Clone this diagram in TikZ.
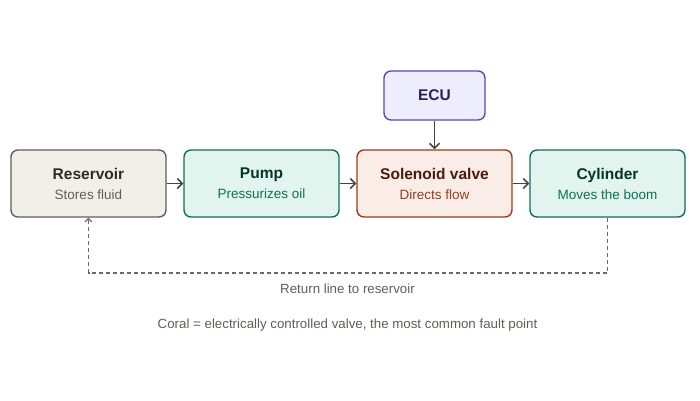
\documentclass[tikz,border=0pt]{standalone}
\usepackage{fontspec}
\setmainfont{Liberation Sans}
\usetikzlibrary{arrows.meta}

\definecolor{resfill}{HTML}{F1EFE8}
\definecolor{resdraw}{HTML}{5F5E5A}
\definecolor{restext}{HTML}{2C2C2A}
\definecolor{greenfill}{HTML}{E1F5EE}
\definecolor{greendraw}{HTML}{0F6E56}
\definecolor{greentext}{HTML}{04342C}
\definecolor{coralfill}{HTML}{FAECE7}
\definecolor{coraldraw}{HTML}{993C1D}
\definecolor{coraltext}{HTML}{4A1B0C}
\definecolor{ecufill}{HTML}{EEEDFE}
\definecolor{ecudraw}{HTML}{534AB7}
\definecolor{ecutext}{HTML}{26215C}
\definecolor{linegray}{HTML}{444441}
\definecolor{notegray}{HTML}{5F5E5A}

\begin{document}
\begin{tikzpicture}[
    x=1pt, y=-1pt,
    stage/.style={rectangle, rounded corners=7pt, line width=1.4pt, minimum width=155pt, minimum height=67pt, align=center, font=\fontsize{13.5}{20}\selectfont},
    resbox/.style={stage, fill=resfill, draw=resdraw, text=resdraw},
    greenbox/.style={stage, fill=greenfill, draw=greendraw, text=greendraw},
    coralbox/.style={stage, fill=coralfill, draw=coraldraw, text=coraldraw},
    ecubox/.style={rectangle, rounded corners=7pt, line width=1.4pt, minimum width=101pt, minimum height=49pt, fill=ecufill, draw=ecudraw, text=ecutext, font=\fontsize{15.5}{18}\selectfont\bfseries},
    flow/.style={-{Straight Barb[length=5pt, width=10pt]}, line width=1.5pt, linegray},
    return/.style={-{Straight Barb[length=3.5pt, width=7pt]}, line width=1.1pt, linegray!80, dash pattern=on 4pt off 3pt},
    note/.style={text=notegray, font=\fontsize{13.3}{16}\selectfont}
]
    \useasboundingbox (0,0) rectangle (700,400);

    % --- Main hydraulic chain ---
    \node[resbox] (res) at (88.5, 183.5) {{\fontsize{15.5}{18}\selectfont\bfseries\color{restext}Reservoir}\\Stores fluid};
    \node[greenbox] (pump) at (261.5, 183.5) {{\fontsize{15.5}{18}\selectfont\bfseries\color{greentext}Pump}\\Pressurizes oil};
    \node[coralbox] (valve) at (434.5, 183.5) {{\fontsize{15.5}{18}\selectfont\bfseries\color{coraltext}Solenoid valve}\\Directs flow};
    \node[greenbox] (cyl) at (607.5, 183.5) {{\fontsize{15.5}{18}\selectfont\bfseries\color{greentext}Cylinder}\\Moves the boom};

    % --- Controller ---
    \node[ecubox] (ecu) at (434.5, 95.5) {ECU};

    % --- Flow arrows ---
    \draw[flow] (res) -- (pump);
    \draw[flow] (pump) -- (valve);
    \draw[flow] (valve) -- (cyl);
    \draw[flow] (ecu) -- (valve);

    % --- Return line ---
    \coordinate (retR) at (607.5, 273);
    \coordinate (retL) at (88.5, 273);
    \draw[return] (cyl.south) -- (retR) -- (retL) -- (res.south);

    % --- Labels ---
    \node[note] (retlabel) at (347.5, 289) {Return line to reservoir};
    \node[note] (legend) at (347.5, 325) {Coral = electrically controlled valve, the most common fault point};
\end{tikzpicture}
\end{document}
